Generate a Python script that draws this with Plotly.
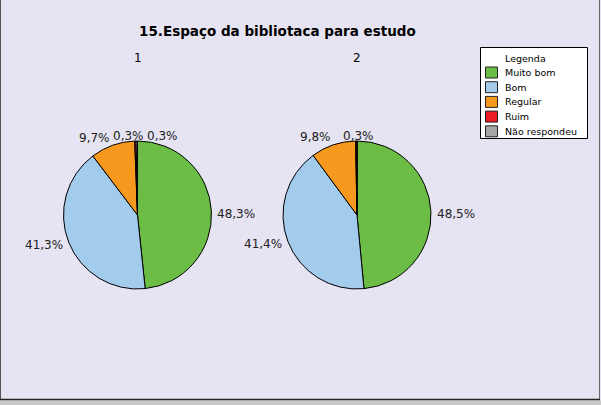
import math
import plotly.graph_objects as go

categories = ["Muito bom", "Bom", "Regular", "Ruim", "Não respondeu"]
values_1 = [48.3, 41.3, 9.7, 0.3, 0.3]
values_2 = [48.5, 41.4, 9.8, 0.3, 0.0]
pie_titles = ["1", "2"]
legend_title = "Legenda"
title_text = "15.Espaço da bibliotaca para estudo"
colors = ["#6BBD45", "#A3CBEB", "#F7991E", "#EC1C24", "#A6A6A6"]

W, H = 601, 405
BG = "#E6E4F2"
FONT = "DejaVu Sans"

# pie geometry (pixels)
centers = [(137.5, 215.0), (357.0, 215.0)]
R = 74.0
GAP = 4.0
# small manual label nudges (pie index, slice index) -> (dx, dy) px
nudges = {(0, 0): (0, 3), (0, 1): (0, 1), (0, 2): (1, -3), (0, 3): (-7, 0), (0, 4): (26, 0),
          (1, 0): (0, 3), (1, 1): (0, 1), (1, 2): (1, -3), (1, 3): (2, 0)}


def fmt(v):
    return f"{v:.1f}".replace(".", ",") + "%"


def px(x):
    return x / W


def py(y):
    return 1 - y / H


fig = go.Figure()
annotations = []
for i, vals in enumerate([values_1, values_2]):
    cx, cy = centers[i]
    fig.add_trace(go.Pie(
        labels=categories,
        values=vals,
        textinfo="none",
        sort=False,
        direction="clockwise",
        rotation=0,
        marker=dict(colors=colors, line=dict(color="black", width=1)),
        domain=dict(x=[px(cx - R), px(cx + R)], y=[py(cy + R), py(cy - R)]),
        showlegend=False,
        hoverinfo="label+percent",
    ))
    total = sum(vals)
    cum = 0.0
    for j, v in enumerate(vals):
        if v <= 0:
            continue
        mid = (cum + v / 2) / total * 2 * math.pi
        cum += v
        s, c = math.sin(mid), math.cos(mid)
        dx, dy = nudges.get((i, j), (0, 0))
        x = cx + (R + GAP) * s + dx
        y = cy - (R + GAP) * c - c * 1.0 + dy
        if s > 0.15:
            xa = "left"
        elif s < -0.15:
            xa = "right"
        else:
            xa = "center"
        annotations.append(dict(
            text=fmt(v), x=px(x), y=py(y), xref="paper", yref="paper", showarrow=False,
            xanchor=xa, yanchor="middle", font=dict(family=FONT, size=12, color="#222222"),
        ))
    annotations.append(dict(
        text=pie_titles[i], x=px(cx), y=py(58), xref="paper", yref="paper", showarrow=False,
        xanchor="center", yanchor="middle", font=dict(family=FONT, size=12, color="black"),
    ))

annotations.append(dict(
    text="<b>" + title_text + "</b>", x=px(277.5), y=py(31), xref="paper", yref="paper",
    showarrow=False, font=dict(family=FONT, size=13.5, color="black"),
    xanchor="center", yanchor="middle",
))

shapes = [
    dict(type="rect", xref="paper", yref="paper", x0=0, x1=1, y0=0, y1=py(400.5),
         line=dict(width=0), fillcolor="#C8C8C8"),
    dict(type="line", xref="paper", yref="paper", x0=px(0.5), x1=px(0.5), y0=py(0), y1=py(400),
         line=dict(color="#555555", width=1)),
    dict(type="line", xref="paper", yref="paper", x0=px(599.5), x1=px(599.5), y0=py(0), y1=py(400),
         line=dict(color="#666666", width=1)),
    dict(type="line", xref="paper", yref="paper", x0=0, x1=px(600), y0=py(399.5), y1=py(399.5),
         line=dict(color="#222222", width=1.5)),
]

# legend box (drawn from categories / colors)
LX0, LX1, LY0, LY1 = 480.5, 587.5, 47.5, 138.5
shapes.append(dict(type="rect", xref="paper", yref="paper", x0=px(LX0), x1=px(LX1),
                   y0=py(LY1), y1=py(LY0), line=dict(color="black", width=1), fillcolor="white"))
annotations.append(dict(text=legend_title, x=px(503), y=py(58), xref="paper", yref="paper",
                        showarrow=False, xanchor="left", yanchor="middle",
                        font=dict(family=FONT, size=9.5, color="black")))
for k, (name, col) in enumerate(zip(categories, colors)):
    yc = 72.5 + 14.7 * k
    shapes.append(dict(type="rect", xref="paper", yref="paper", x0=px(485.5), x1=px(497.5),
                       y0=py(yc + 5.5), y1=py(yc - 5.5), line=dict(color="#222222", width=1),
                       fillcolor=col))
    annotations.append(dict(text=name, x=px(503), y=py(yc), xref="paper", yref="paper",
                            showarrow=False, xanchor="left", yanchor="middle",
                            font=dict(family=FONT, size=9.5, color="black")))

fig.update_layout(
    width=W, height=H,
    margin=dict(l=0, r=0, t=0, b=0),
    paper_bgcolor=BG, plot_bgcolor=BG,
    font=dict(family=FONT, size=10, color="black"),
    annotations=annotations,
    shapes=shapes,
    showlegend=False,
)

fig.write_html("out.html", config={"displayModeBar": False},
               post_script="document.body.style.margin='0';")
